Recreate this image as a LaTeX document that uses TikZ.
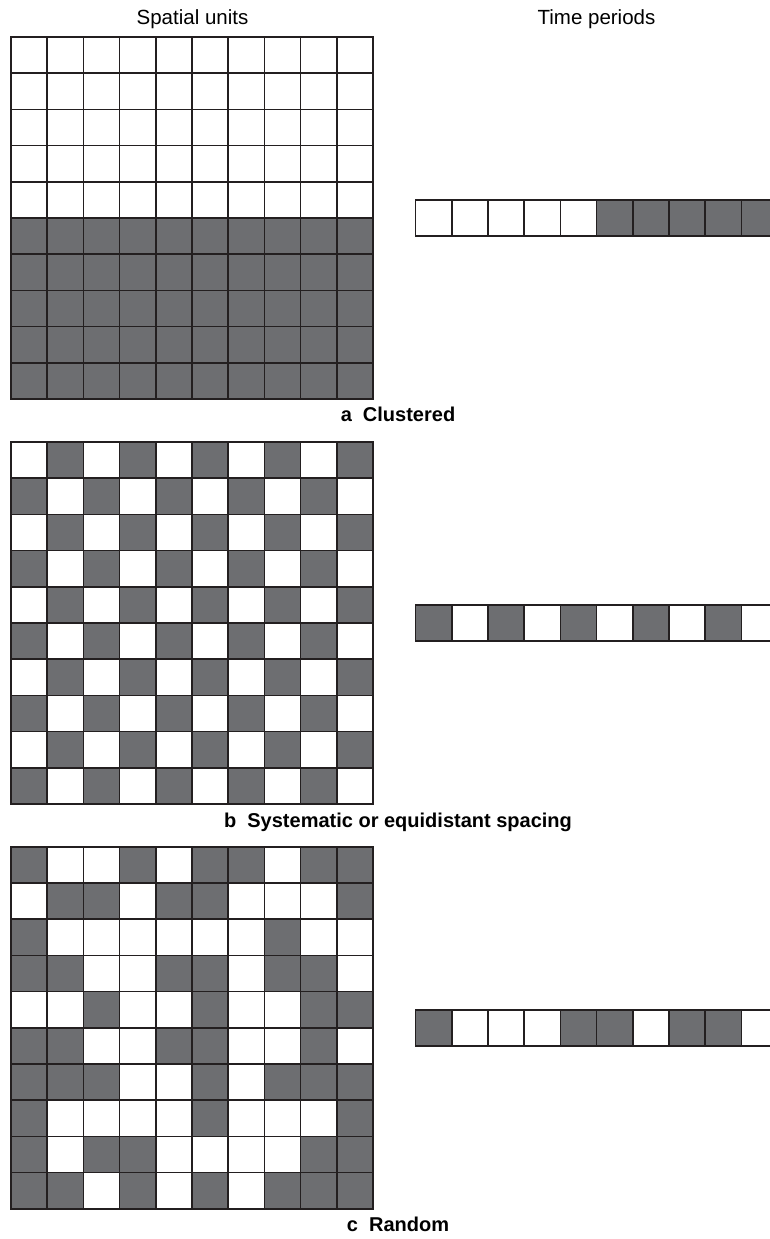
\documentclass[tikz,border=0pt]{standalone}
\usepackage{fontspec}
\setmainfont{Liberation Sans}
\usepackage{xcolor}
\usepackage{tikz}
\definecolor{cellgray}{HTML}{6D6E71}
\definecolor{cellline}{HTML}{231F20}
\newcommand{\cellsz}{36.2}

\begin{document}
\begin{tikzpicture}[x=1pt, y=-1pt, font=\fontsize{20.5}{24}\selectfont,
  s0/.style={draw=cellline, line width=1.6pt, fill=white},
  s1/.style={draw=cellline, line width=1.6pt, fill=cellgray},
  caption/.style={anchor=base, font=\fontsize{20}{24}\selectfont\bfseries}]
\useasboundingbox (0,0) rectangle (769,1239);
\node[anchor=base] (spatial) at (192.5,25) {Spatial units};
\node[anchor=base] (time) at (596.5,25) {Time periods};
% a: clustered
\foreach \r in {0,...,9}
  \foreach \c in {0,...,9} {
    \pgfmathtruncatemacro\v{\r>4}
    \draw[s\v] ({11+\c*\cellsz},{37+\r*\cellsz}) rectangle +(\cellsz,\cellsz);
  }
\foreach \v [count=\c from 0] in {0,0,0,0,0,1,1,1,1,1}
  \draw[s\v] ({415.5+\c*\cellsz},199.9) rectangle +(\cellsz,\cellsz);
\node[caption] (capa) at (398,421.7) {a~~Clustered};
% b: systematic
\foreach \r in {0,...,9}
  \foreach \c in {0,...,9} {
    \pgfmathtruncatemacro\v{mod(\r+\c,2)}
    \draw[s\v] ({11+\c*\cellsz},{441.9+\r*\cellsz}) rectangle +(\cellsz,\cellsz);
  }
\foreach \v [count=\c from 0] in {1,0,1,0,1,0,1,0,1,0}
  \draw[s\v] ({415.5+\c*\cellsz},604.8) rectangle +(\cellsz,\cellsz);
\node[caption] (capb) at (398,827) {b~~Systematic or equidistant spacing};
% c: random
\foreach \r/\row in {0/{1,0,0,1,0,1,1,0,1,1}, 1/{0,1,1,0,1,1,0,0,0,1},
    2/{1,0,0,0,0,0,0,1,0,0}, 3/{1,1,0,0,1,1,0,1,1,0},
    4/{0,0,1,0,0,1,0,0,1,1}, 5/{1,1,0,0,1,1,0,0,1,0},
    6/{1,1,1,0,0,1,0,1,1,1}, 7/{1,0,0,0,0,1,0,0,0,1},
    8/{1,0,1,1,0,0,0,0,1,1}, 9/{1,1,0,1,0,1,0,1,1,1}}
  \foreach \v [count=\c from 0] in \row
    \draw[s\v] ({11+\c*\cellsz},{846.8+\r*\cellsz}) rectangle +(\cellsz,\cellsz);
\foreach \v [count=\c from 0] in {1,0,0,0,1,1,0,1,1,0}
  \draw[s\v] ({415.5+\c*\cellsz},1009.7) rectangle +(\cellsz,\cellsz);
\node[caption] (capc) at (398,1231.7) {c~~Random};
\end{tikzpicture}
\end{document}
